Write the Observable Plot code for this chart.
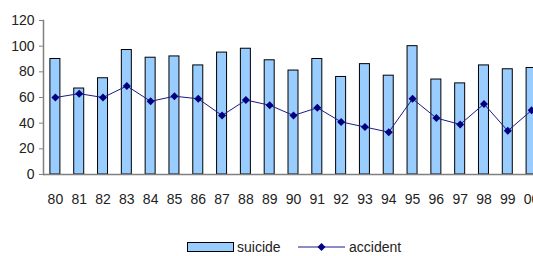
<!DOCTYPE html>
<html>
<head>
<meta charset="utf-8">
<script src="https://cdn.jsdelivr.net/npm/d3@7"></script>
<script src="https://cdn.jsdelivr.net/npm/@observablehq/plot@0.6"></script>
<style>
  html, body { margin: 0; padding: 0; background: #fff; overflow: hidden; width: 533px; height: 256px; }
  #chart svg { display: block; overflow: hidden; }
  #legend { position: relative; height: 41px; }
</style>
</head>
<body>
<div id="chart"></div>
<div id="legend"></div>
<script>
const years = ["80","81","82","83","84","85","86","87","88","89","90","91","92","93","94","95","96","97","98","99","00"];
const suicide = [90,67,75,97,91,92,85,95,98,89,81,90,76,86,77,100,74,71,85,82,83];
const accident = [60,63,60,69,57,61,59,46,58,54,46,52,41,37,33,59,44,39,55,34,50];
const yTicks = [0,20,40,60,80,100,120];

const data = years.map((y, i) => ({year: y, suicide: suicide[i], accident: accident[i]}));

const chart = Plot.plot({
  width: 533,
  height: 215,
  marginTop: 20,
  marginBottom: 41,
  marginLeft: 43,
  marginRight: -10,
  style: {fontFamily: "'Liberation Sans', Arial, sans-serif", fontSize: "14px", color: "#222", background: "#fff"},
  x: {domain: years, paddingInner: 0.58, paddingOuter: 0.29, round: false, label: null},
  y: {domain: [0, 120], label: null},
  marks: [
    Plot.barY(data, {x: "year", y: "suicide", fill: "#99CCFF", stroke: "#000", strokeWidth: 1}),
    Plot.ruleY([0], {stroke: "#808080", strokeWidth: 1.5}),
    Plot.frame({anchor: "left", stroke: "#808080", strokeWidth: 1.5}),
    Plot.line(data, {x: "year", y: "accident", stroke: "#1a1a8a", strokeWidth: 1}),
    Plot.dot(data, {x: "year", y: "accident", symbol: "diamond2", fill: "#000080", stroke: "none", r: 3.6}),
    Plot.axisY({ticks: yTicks, tickSize: 4, tickPadding: 5, stroke: "#808080", label: null}),
    Plot.axisX({tickSize: 0, tickPadding: 20, label: null})
  ]
});
document.getElementById("chart").appendChild(chart);

// Legend
const legend = d3.select("#legend").append("svg").attr("width", 533).attr("height", 41)
  .style("font-family", "'Liberation Sans', Arial, sans-serif").style("font-size", "14px");
legend.append("rect").attr("x", 187.5).attr("y", 27.5).attr("width", 46).attr("height", 9)
  .attr("fill", "#99CCFF").attr("stroke", "#000");
legend.append("text").attr("x", 237).attr("y", 37).attr("fill", "#222").text("suicide");
legend.append("line").attr("x1", 298).attr("x2", 345).attr("y1", 32).attr("y2", 32)
  .attr("stroke", "#1a1a8a").attr("stroke-width", 1);
legend.append("path").attr("d", d3.symbol(d3.symbolDiamond2, 40)()).attr("transform", "translate(321.5,32)")
  .attr("fill", "#000080");
legend.append("text").attr("x", 349).attr("y", 37).attr("fill", "#222").text("accident");
</script>
</body>
</html>
